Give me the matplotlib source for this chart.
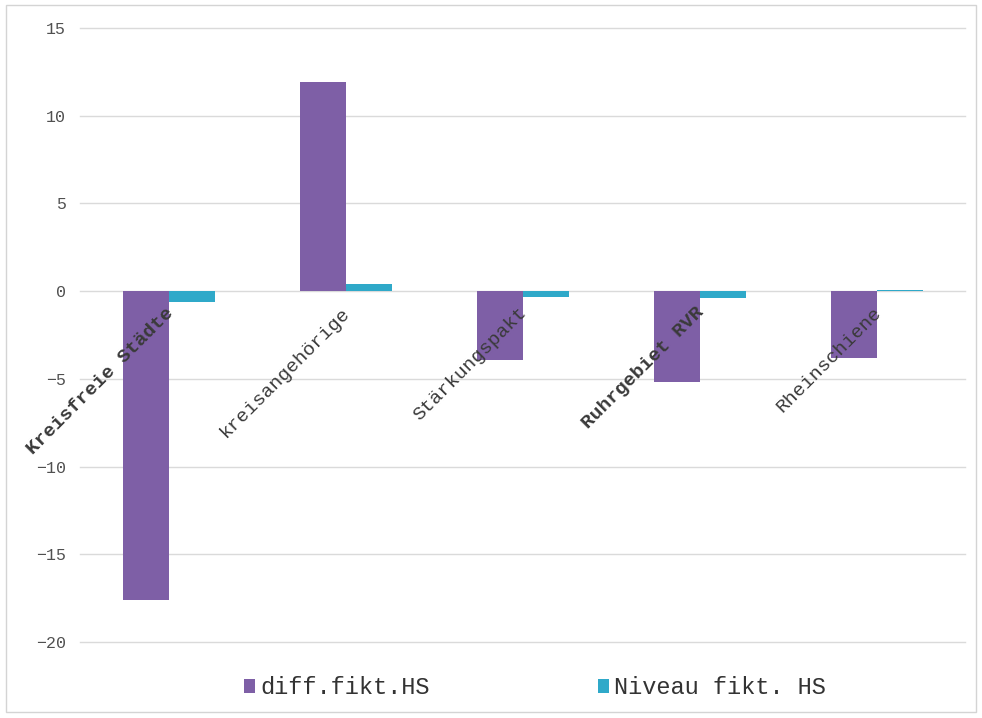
import numpy as np
import matplotlib.pyplot as plt
from matplotlib.patches import Rectangle
from matplotlib import transforms

categories = ['Kreisfreie Städte', 'kreisangehörige', 'Stärkungspakt',
              'Ruhrgebiet RVR', 'Rheinschiene']
bold_labels = ['Kreisfreie Städte', 'Ruhrgebiet RVR']
diff_fikt = [-17.6, 11.9, -3.9, -5.2, -3.8]
niveau_fikt = [-0.63, 0.4, -0.35, -0.4, 0.05]
series_names = ['diff.fikt.HS', 'Niveau fikt. HS']
yticks = [-20, -15, -10, -5, 0, 5, 10, 15]

purple = '#7e5fa6'
teal = '#2fa9c9'
grid_col = '#dadada'
text_col = '#505050'
mono = 'Liberation Mono'

fig = plt.figure(figsize=(9.82, 7.18), dpi=100)
fig.patch.set_facecolor('white')
fig.add_artist(Rectangle((0.006, 0.008), 0.988, 0.985, transform=fig.transFigure,
                         fill=False, edgecolor='#d4d4d4', linewidth=1.0))

ax = fig.add_axes([0.0815, 0.1058, 0.9015, 0.8552])
x = np.arange(len(categories))
w = 0.26
b1 = ax.bar(x - w / 2, diff_fikt, w, color=purple, label=series_names[0], zorder=3)
b2 = ax.bar(x + w / 2, niveau_fikt, w, color=teal, label=series_names[1], zorder=3)

ax.set_xlim(-0.5, len(categories) - 0.5)
ax.set_ylim(-20, 15)
ax.set_yticks(yticks)
ax.set_yticklabels([str(v).replace('-', '\u2212') for v in yticks],
                   fontfamily=mono, fontsize=12, color=text_col)
ax.tick_params(axis='y', length=0, pad=10)
ax.set_xticks([])
ax.grid(axis='y', color=grid_col, linewidth=1.0, zorder=0)
ax.set_axisbelow(True)
for gl in ax.get_ygridlines():
    gl.set_clip_on(False)
for s in ax.spines.values():
    s.set_visible(False)

# category names written diagonally, ending just below the zero line
offset = transforms.ScaledTranslation(-4 / 100, -13 / 100, fig.dpi_scale_trans)
for i, lab in enumerate(categories):
    ax.text(i, 0, lab, rotation=45, ha='right', va='top', rotation_mode='anchor',
            fontfamily=mono, fontsize=14, color='#3a3a3a',
            fontweight='bold' if lab in bold_labels else 'normal',
            transform=ax.transData + offset, zorder=4)

fig.legend(handles=[b1, b2], loc='center', bbox_to_anchor=(0.545, 0.042),
           ncol=2, frameon=False, prop={'family': mono, 'size': 17},
           labelcolor='#333333', handlelength=0.47, handleheight=0.5,
           handletextpad=0.22, columnspacing=7.1)

fig.savefig('out.png', dpi=100, facecolor='white')
